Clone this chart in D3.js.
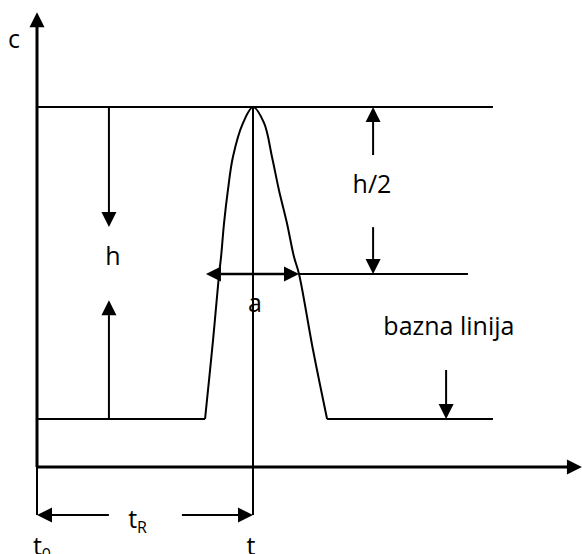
<!DOCTYPE html>
<html>
<head>
<meta charset="utf-8">
<script src="https://cdn.jsdelivr.net/npm/d3@7"></script>
<style>
    body { margin: 0; background: #fff; }
    svg text { font-family: "Open Sans", sans-serif; font-size: 25px; fill: #000; }
</style>
</head>
<body>
<svg id="chart" width="582" height="554"></svg>
<script>
// values (t in time units, c in concentration units)
const tR = 10;          // retention time
const h = 10;           // peak height
const halfLevel = 4.65; // level where width a is measured
const axisC = -1.54;    // where the time axis sits
const tEnd = 25.23;     // time axis end
const cEnd = 13.04;     // concentration axis end
const dimC = -3.08;     // level of the t_R dimension line

// peak profile
const peakT = [7.78, 8.15, 8.43, 8.52, 8.66, 8.84, 9.07, 9.54, 10, 10.51, 10.88, 11.20, 11.57, 11.90, 12.13, 12.78, 13.43];
const peakC = [0, 2.53, 4.65, 5.19, 6.28, 7.34, 8.40, 9.49, 10, 9.49, 8.40, 7.34, 6.28, 5.19, 4.65, 2.21, 0];

// guide lines: [t1, c1, t2, c2]
const guideLines = [
    [0, h, 21.11, h],                 // top of peak
    [12.13, halfLevel, 19.95, halfLevel], // half height
    [0, 0, 7.78, 0],                  // baseline left
    [13.43, 0, 21.11, 0],             // baseline right
    [tR, h, tR, dimC],                // vertical at t
    [0, axisC, 0, dimC]               // vertical at t0
];

// arrows: [tailT, tailC, tipT, tipC]
const arrows = [
    [3.33, h, 3.33, 6.15],      // h down
    [3.33, 0, 3.33, 3.81],      // h up
    [15.56, 8.46, 15.56, h],    // h/2 up
    [15.56, 6.15, 15.56, halfLevel], // h/2 down
    [18.94, 1.57, 18.94, 0],    // bazna linija
    [3.33, dimC, 0, dimC],      // t_R left
    [6.71, dimC, tR, dimC]      // t_R right
];
const widthArrow = [7.82, 12.13, halfLevel]; // a, both heads

// labels: [text, t, c, anchor, sub]
const labels = [
    ["c", -1.06, 11.89, "middle", ""],
    ["h", 3.52, 4.94, "middle", ""],
    ["h/2", 15.51, 7.24, "middle", ""],
    ["a", 10.09, 3.43, "middle", ""],
    ["bazna linija", 19.07, 2.69, "middle", ""],
    ["t", 4.22, -3.49, "start", "R"],
    ["t", -0.19, -4.36, "start", "0"],
    ["t", 9.90, -4.36, "middle", ""]
];

const svg = d3.select("#chart");
const x = d3.scaleLinear().domain([0, tR]).range([37, 253]);
const y = d3.scaleLinear().domain([0, h]).range([419, 107]);

// arrowhead at (x2,y2) pointing away from (x1,y1)
function head(g, x1, y1, x2, y2) {
    const len = 15, hw = 7.5;
    const ang = Math.atan2(y2 - y1, x2 - x1);
    const bx = x2 - len * Math.cos(ang), by = y2 - len * Math.sin(ang);
    const px = -Math.sin(ang) * hw, py = Math.cos(ang) * hw;
    g.append("path")
        .attr("d", "M" + x2 + "," + y2 + "L" + (bx + px) + "," + (by + py) + "L" + (bx - px) + "," + (by - py) + "Z")
        .attr("fill", "#000");
    return [bx, by];
}

const g = svg.append("g");

// axes
const ax = g.append("g").attr("stroke", "#000").attr("stroke-width", 3);
ax.append("line")
    .attr("x1", x(0)).attr("y1", y(axisC))
    .attr("x2", x(tEnd) - 12).attr("y2", y(axisC));
head(g, x(0), y(axisC), x(tEnd), y(axisC));
ax.append("line")
    .attr("x1", x(0)).attr("y1", y(axisC))
    .attr("x2", x(0)).attr("y2", y(cEnd) + 12);
head(g, x(0), y(axisC), x(0), y(cEnd));

// guide lines
g.append("g").selectAll("line")
    .data(guideLines)
    .enter().append("line")
    .attr("x1", d => x(d[0])).attr("y1", d => y(d[1]))
    .attr("x2", d => x(d[2])).attr("y2", d => y(d[3]))
    .attr("stroke", "#000").attr("stroke-width", 2);

// peak
const pts = peakT.map((t, i) => [t, peakC[i]]);
g.append("path")
    .datum(pts)
    .attr("d", d3.line().x(d => x(d[0])).y(d => y(d[1])).curve(d3.curveCatmullRom.alpha(0.5)))
    .attr("fill", "none").attr("stroke", "#000").attr("stroke-width", 2);

// arrows
arrows.forEach(function (a) {
    const x1 = x(a[0]), y1 = y(a[1]), x2 = x(a[2]), y2 = y(a[3]);
    const b = head(g, x1, y1, x2, y2);
    g.append("line")
        .attr("x1", x1).attr("y1", y1).attr("x2", b[0]).attr("y2", b[1])
        .attr("stroke", "#000").attr("stroke-width", 2);
});

// width a (double headed)
const ay = y(widthArrow[2]);
const l = head(g, x(widthArrow[1]), ay, x(widthArrow[0]), ay);
const r = head(g, x(widthArrow[0]), ay, x(widthArrow[1]), ay);
g.append("line")
    .attr("x1", l[0]).attr("y1", ay).attr("x2", r[0]).attr("y2", ay)
    .attr("stroke", "#000").attr("stroke-width", 2.5);

// labels
labels.forEach(function (d) {
    const txt = g.append("text")
        .attr("x", x(d[1])).attr("y", y(d[2]))
        .attr("text-anchor", d[3])
        .text(d[0]);
    if (d[4]) {
        txt.append("tspan").attr("dy", 5).style("font-size", "16px").text(d[4]);
    }
});
</script>
</body>
</html>
